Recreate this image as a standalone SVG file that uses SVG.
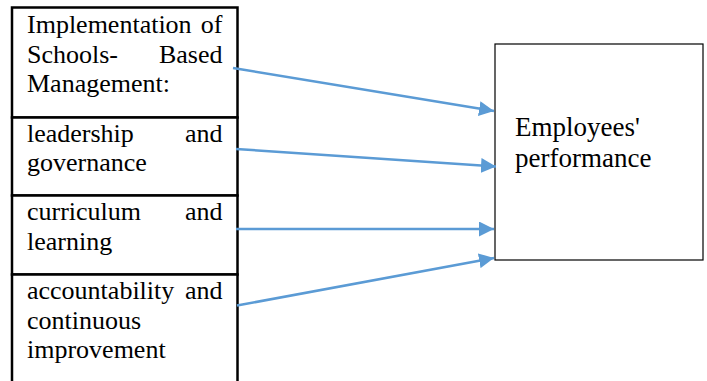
<svg xmlns="http://www.w3.org/2000/svg" width="707" height="381" viewBox="0 0 707 381">
<defs>
<style>
.t{font-family:"Liberation Serif","Times New Roman",serif;font-size:26px;fill:#000}
.e{text-anchor:end}
.box{fill:#fff;stroke:#000;stroke-width:2.5}
.con{stroke:#5B9BD5;stroke-width:2.5;fill:none;marker-end:url(#ah)}
</style>
<marker id="ah" viewBox="0 0 10 10" refX="10" refY="5" markerWidth="6" markerHeight="6" markerUnits="strokeWidth" orient="auto">
<path d="M0,0 L10,5 L0,10 z" fill="#5B9BD5"/>
</marker>
</defs>
<rect width="707" height="381" fill="#fff"/>
<g id="node-sbm">
<rect class="box" x="12" y="7.5" width="225.5" height="110"/>
<text class="t" x="27" y="33">Implementation</text><text class="t e" x="222.5" y="33">of</text>
<text class="t" x="27" y="63">Schools-</text><text class="t e" x="222.5" y="63">Based</text>
<text class="t" x="27" y="92">Management:</text>
</g>
<g id="node-leadership">
<rect class="box" x="12" y="117.5" width="225.5" height="78"/>
<text class="t" x="27" y="142">leadership</text><text class="t e" x="222.5" y="142">and</text>
<text class="t" x="27" y="171">governance</text>
</g>
<g id="node-curriculum">
<rect class="box" x="12" y="195.5" width="225.5" height="79"/>
<text class="t" x="27" y="220">curriculum</text><text class="t e" x="222.5" y="220">and</text>
<text class="t" x="27" y="250">learning</text>
</g>
<g id="node-accountability">
<rect class="box" x="12" y="274.5" width="225.5" height="120"/>
<text class="t" x="27" y="299">accountability</text><text class="t e" x="222.5" y="299">and</text>
<text class="t" x="27" y="329">continuous</text>
<text class="t" x="27" y="358">improvement</text>
</g>
<g id="node-performance">
<rect x="495" y="44" width="208" height="216" fill="#fff" stroke="#000" stroke-width="1.2"/>
<text class="t" x="515" y="136" style="font-size:27px">Employees'</text>
<text class="t" x="515" y="167" style="font-size:27px">performance</text>
</g>
<g id="connectors">
<line class="con" x1="233" y1="68" x2="494" y2="111"/>
<line class="con" x1="236" y1="149" x2="496" y2="166.5"/>
<line class="con" x1="236" y1="229" x2="494" y2="229"/>
<line class="con" x1="237" y1="305.5" x2="494" y2="258"/>
</g>
</svg>
